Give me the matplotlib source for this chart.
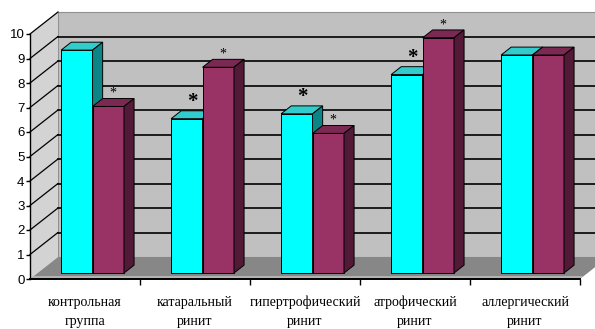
import numpy as np
import matplotlib
matplotlib.use('Agg')
import matplotlib.pyplot as plt
from matplotlib.patches import Polygon

categories = ['контрольная\nгруппа', 'катаральный\nринит', 'гипертрофический\nринит',
              'атрофический\nринит', 'аллергический\nринит']
cyan_vals = [9.1, 6.3, 6.5, 8.1, 8.9]
plum_vals = [6.8, 8.4, 5.7, 9.6, 8.9]
cyan_marks = ['', '*', '*', '*', '']
plum_marks = ['*', '*', '*', '*', '']

# pseudo-3d geometry (in data units)
DX, DY = 28 / 110, 22 / 24.5      # depth offset of the back wall
F0, FD = 0.27, 0.36               # bar front position and thickness in depth
W = 1 / 3.5                       # bar width (gap 150%)
N = len(categories)

fig = plt.figure(figsize=(5.95, 3.29), dpi=100)
ax = fig.add_axes([30 / 595, 50 / 329, 550 / 595, 245 / 329])
ax.set_xlim(0, N)
ax.set_ylim(0, 10)
ax.patch.set_visible(False)


def poly(pts, fc, ec='none', lw=0.0, z=1):
    ax.add_patch(Polygon(pts, closed=True, facecolor=fc, edgecolor=ec,
                         linewidth=lw, zorder=z, clip_on=False))


# walls and floor
poly([(DX, DY), (N + DX, DY), (N + DX, 10 + DY), (DX, 10 + DY)], '#c0c0c0', '#909090', 0.8, 0)
poly([(0, 0), (DX, DY), (DX, 10 + DY), (0, 10)], '#d3d3d3', 'none', 0, 0)
poly([(0, 0), (N, 0), (N + DX, DY), (DX, DY)], '#878787', 'none', 0, 0.5)
poly([(0, 0), (N, 0), (N + 0.03, 0.12), (0.03, 0.12)], '#b4b4b4', 'none', 0, 0.6)

for v in range(1, 11):
    if v < 10:
        ax.plot([DX, N + DX], [v + DY, v + DY], color='black', lw=1.2, zorder=0.8, clip_on=False)
    ax.plot([0, DX], [v, v + DY], color='black', lw=0.9, zorder=0.8, clip_on=False)


def bar3d(x, h, front, top, side):
    b = F0 * DY
    x1, x2 = x, x + W
    y1, y2 = b, b + h
    ddx, ddy = FD * DX, FD * DY
    ax.bar(x1, h, width=W, bottom=b, align='edge', color=front,
           edgecolor='black', linewidth=0.7, zorder=2, clip_on=False)
    poly([(x1, y2), (x2, y2), (x2 + ddx, y2 + ddy), (x1 + ddx, y2 + ddy)], top, 'black', 0.7, 2)
    poly([(x2, y1), (x2 + ddx, y1 + ddy), (x2 + ddx, y2 + ddy), (x2, y2)], side, 'black', 0.7, 2)


def star(x, h, s, bold):
    if not s:
        return
    y = F0 * DY + h + FD * DY
    ax.text(x + W / 2 + FD * DX / 2, y - 0.05, s, ha='center', va='bottom',
            family='Liberation Serif', fontsize=15 if bold else 10,
            fontweight='bold' if bold else 'normal', zorder=4)


for i in range(N):
    xc = i + 0.75 * W + F0 * DX
    bar3d(xc, cyan_vals[i], '#00ffff', '#33cccc', '#0b8585')
    bar3d(xc + W, plum_vals[i], '#993366', '#7a2952', '#521a37')
    star(xc, cyan_vals[i], cyan_marks[i], True)
    star(xc + W, plum_vals[i], plum_marks[i], False)

# axes
for s in ['top', 'right']:
    ax.spines[s].set_visible(False)
ax.spines['left'].set_linewidth(1.0)
ax.spines['bottom'].set_linewidth(1.4)
ax.spines['left'].set_zorder(3)
ax.spines['bottom'].set_zorder(3)
ax.set_yticks(range(11))
ax.set_yticklabels([str(v) for v in range(11)], family='Liberation Sans', fontsize=9.5)
ax.tick_params(axis='y', direction='out', length=3, width=1, pad=1)
ax.set_xticks(range(1, N + 1))
ax.set_xticklabels([])
ax.tick_params(axis='x', direction='out', length=4, width=1)

for i, lab in enumerate(categories):
    l1, l2 = lab.split('\n')
    ax.text(i + 0.5, -0.95, l1, ha='center', va='center', family='Liberation Serif', fontsize=10)
    ax.text(i + 0.5, -1.72, l2, ha='center', va='center', family='Liberation Serif', fontsize=10)

fig.savefig('out.png', dpi=100, facecolor='white')
